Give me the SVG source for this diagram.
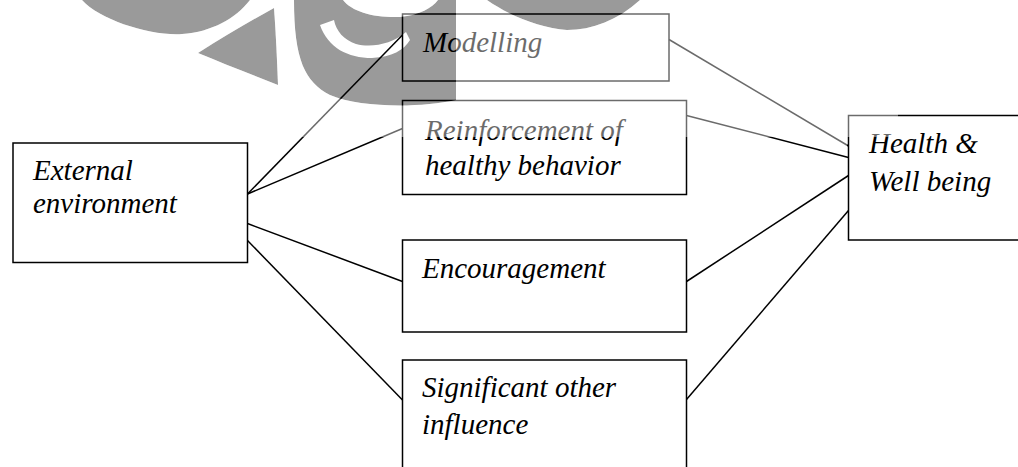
<svg xmlns="http://www.w3.org/2000/svg" width="1018" height="467" viewBox="0 0 1018 467">
  <style>
    .box { fill: none; stroke: #000000; stroke-width: 1.5; }
    text { font-family: "Liberation Serif", "DejaVu Serif", serif; font-style: italic; font-size: 29px; fill: #000000; }
    .conn { stroke: #000000; stroke-width: 1.5; fill: none; }
    .wm { fill: #9a9a9a; }
    .fade { fill: #ffffff; fill-opacity: 0.42; fill-rule: evenodd; }
  </style>
  <rect x="0" y="0" width="1018" height="467" fill="#ffffff"/>

  <g id="watermark">
    <path class="wm" d="M82,0 C100,20 150,36 182,34 C212,32 236,18 250,0 Z"/>
    <path class="wm" d="M198,53 C225,36 252,20 274,8 C276,35 277,60 278,85 C250,74 222,63 198,53 Z"/>
    <path class="wm" fill-rule="evenodd" d="M294,0 L343,0 C352,12 375,18 400,17 C420,15 432,8 438,0 L456,0 L456,100 C420,108 360,108 330,95 C305,82 294,60 294,0 Z M320,25 C328,48 348,58 372,58 C392,57 404,50 410,40 L406,32 C392,44 372,48 356,44 C344,40 336,31 334,20 Z"/>
    <path class="wm" d="M487,0 C510,16 540,28 567,30 C592,30 618,20 640,0 Z"/>
  </g>

  <g id="connectors">
    <line class="conn" x1="247.5" y1="194" x2="402.5" y2="35"/>
    <line class="conn" x1="247.5" y1="194" x2="402.5" y2="128.5"/>
    <line class="conn" x1="247.5" y1="223.5" x2="402.5" y2="281.5"/>
    <line class="conn" x1="247.5" y1="240.5" x2="402.5" y2="400"/>
    <line class="conn" x1="669" y1="39.5" x2="848.5" y2="146"/>
    <line class="conn" x1="686.5" y1="115.5" x2="848.5" y2="157.5"/>
    <line class="conn" x1="686.5" y1="281.5" x2="848.5" y2="175.5"/>
    <line class="conn" x1="686.5" y1="399.5" x2="848.5" y2="210.5"/>
  </g>

  <g id="external">
    <rect class="box" x="13" y="143" width="234.5" height="119.5"/>
    <text x="33" y="180" font-family="Liberation Serif, serif">External</text>
    <text x="33" y="213" font-family="Liberation Serif, serif">environment</text>
  </g>
  <g id="modelling">
    <rect class="box" x="402.5" y="14" width="266.5" height="67"/>
    <text x="423" y="52" font-family="Liberation Serif, serif">Modelling</text>
  </g>
  <g id="reinforcement">
    <rect class="box" x="402.5" y="100.5" width="284" height="94"/>
    <text x="425" y="140" font-family="Liberation Serif, serif">Reinforcement of</text>
    <text x="425" y="175" font-family="Liberation Serif, serif">healthy behavior</text>
  </g>
  <g id="encouragement">
    <rect class="box" x="402.5" y="240" width="284" height="92"/>
    <text x="422" y="278" font-family="Liberation Serif, serif">Encouragement</text>
  </g>
  <g id="significant">
    <rect class="box" x="402.5" y="360" width="284" height="120"/>
    <text x="422" y="397" font-family="Liberation Serif, serif">Significant other</text>
    <text x="422" y="434" font-family="Liberation Serif, serif">influence</text>
  </g>
  <g id="health">
    <rect class="box" x="848.5" y="115.5" width="200" height="124.5"/>
    <text x="869" y="153" font-family="Liberation Serif, serif">Health &amp;</text>
    <text x="869" y="191" font-family="Liberation Serif, serif">Well being</text>
  </g>

  <path class="fade" d="M0,0 L898,0 L898,137 L847,137 L847,147 L831,147 L831,137 L0,137 Z M82,0 C100,20 150,36 182,34 C212,32 236,18 250,0 Z M198,53 C225,36 252,20 274,8 C276,35 277,60 278,85 C250,74 222,63 198,53 Z M294,0 L343,0 C352,12 375,18 400,17 C420,15 432,8 438,0 L456,0 L456,100 C420,108 360,108 330,95 C305,82 294,60 294,0 Z M487,0 C510,16 540,28 567,30 C592,30 618,20 640,0 Z"/>
</svg>
